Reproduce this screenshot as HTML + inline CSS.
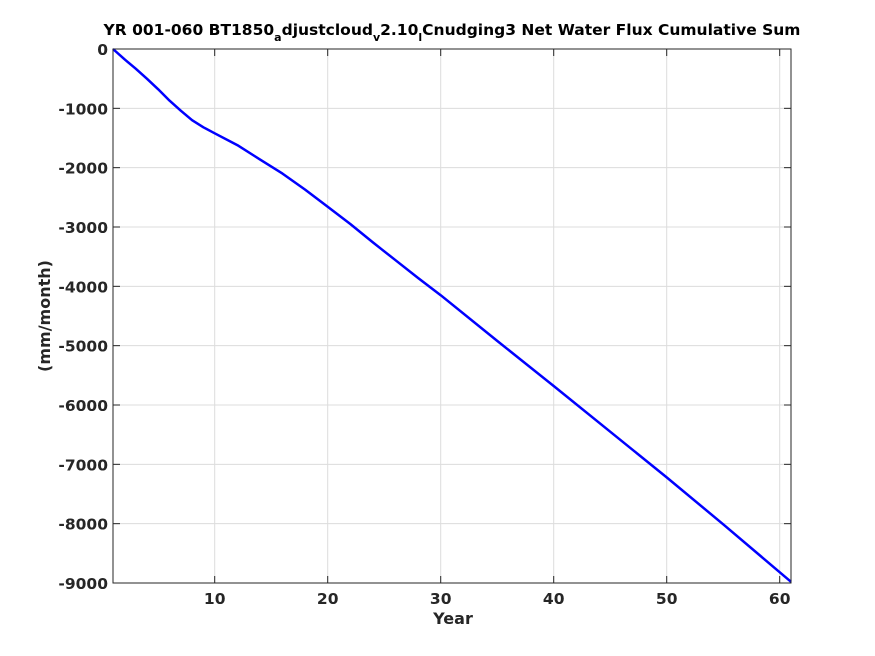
<!DOCTYPE html>
<html><head><meta charset="utf-8"><style>
body{margin:0;background:#fff;}
svg{display:block;font-family:"DejaVu Sans","Liberation Sans",sans-serif;}
</style></head><body>
<svg id="chart" width="875" height="656">
<text x="452" y="35" text-anchor="middle" font-size="15.5" font-weight="bold" fill="#000">YR 001-060 BT1850<tspan font-size="11" dy="6">a</tspan><tspan dy="-6">djustcloud</tspan><tspan font-size="11" dy="6">v</tspan><tspan dy="-6">2.10</tspan><tspan font-size="11" dy="6">l</tspan><tspan dy="-6">Cnudging3 Net Water Flux Cumulative Sum</tspan></text>
<g id="grid"></g>
<g id="axes"></g>
<polyline id="series" fill="none" stroke="#0000ff" stroke-width="2.5" stroke-linejoin="round"/>
<rect x="113" y="49" width="678" height="534" fill="none" stroke="#262626" stroke-width="1"/>
<text x="453" y="624" text-anchor="middle" font-size="16" font-weight="bold" fill="#262626">Year</text>
<text transform="translate(50,316) rotate(-90)" text-anchor="middle" font-size="16" font-weight="bold" fill="#262626">(mm/month)</text>
</svg>
<script>
const years = [1,2,3,4,5,6,7,8,9,10,12,14,16,18,20,22,24,26,28,30,35,40,45,50,55,61];
const values = [0,-170,-330,-500,-680,-870,-1040,-1200,-1320,-1420,-1620,-1860,-2100,-2370,-2660,-2950,-3260,-3560,-3860,-4150,-4920,-5680,-6450,-7220,-8010,-8980];
const xTicks = [10,20,30,40,50,60];
const yTicks = [0,-1000,-2000,-3000,-4000,-5000,-6000,-7000,-8000,-9000];
const L=113,R=791,T=49,B=583,xMin=1,xMax=61,yMin=-9000,yMax=0;
const X=v=>L+(v-xMin)/(xMax-xMin)*(R-L);
const Y=v=>T+(yMax-v)/(yMax-yMin)*(B-T);
const ns="http://www.w3.org/2000/svg";
const grid=document.getElementById('grid'),axes=document.getElementById('axes');
function mk(tag,attrs,parent){const e=document.createElementNS(ns,tag);for(const k in attrs)e.setAttribute(k,attrs[k]);parent.appendChild(e);return e;}
xTicks.forEach(t=>{
  const g=mk('line',{x1:X(t),x2:X(t),y1:T,y2:B,stroke:'#dcdcdc','stroke-width':1},grid);
  
  
  mk('line',{x1:X(t),x2:X(t),y1:B,y2:B-7,stroke:'#262626'},axes);
  mk('line',{x1:X(t),x2:X(t),y1:T,y2:T+7,stroke:'#262626'},axes);
  const tx=mk('text',{x:X(t),y:B+21,'text-anchor':'middle','font-size':15.5,'font-weight':'bold',fill:'#262626'},axes);
  tx.textContent=t;
  
  
});
yTicks.forEach(t=>{
  const g=mk('line',{x1:L,x2:R,y1:Y(t),y2:Y(t),stroke:'#dcdcdc','stroke-width':1},grid);
  
  
  mk('line',{x1:L,x2:L+7,y1:Y(t),y2:Y(t),stroke:'#262626'},axes);
  mk('line',{x1:R,x2:R-7,y1:Y(t),y2:Y(t),stroke:'#262626'},axes);
  const tx=mk('text',{x:L-5,y:Y(t)+6,'text-anchor':'end','font-size':15.5,'font-weight':'bold',fill:'#262626'},axes);
  tx.textContent=t;
  
  
});
document.getElementById('series').setAttribute('points',years.map((y,i)=>X(y).toFixed(1)+','+Y(values[i]).toFixed(1)).join(' '));
</script>
</body></html>
